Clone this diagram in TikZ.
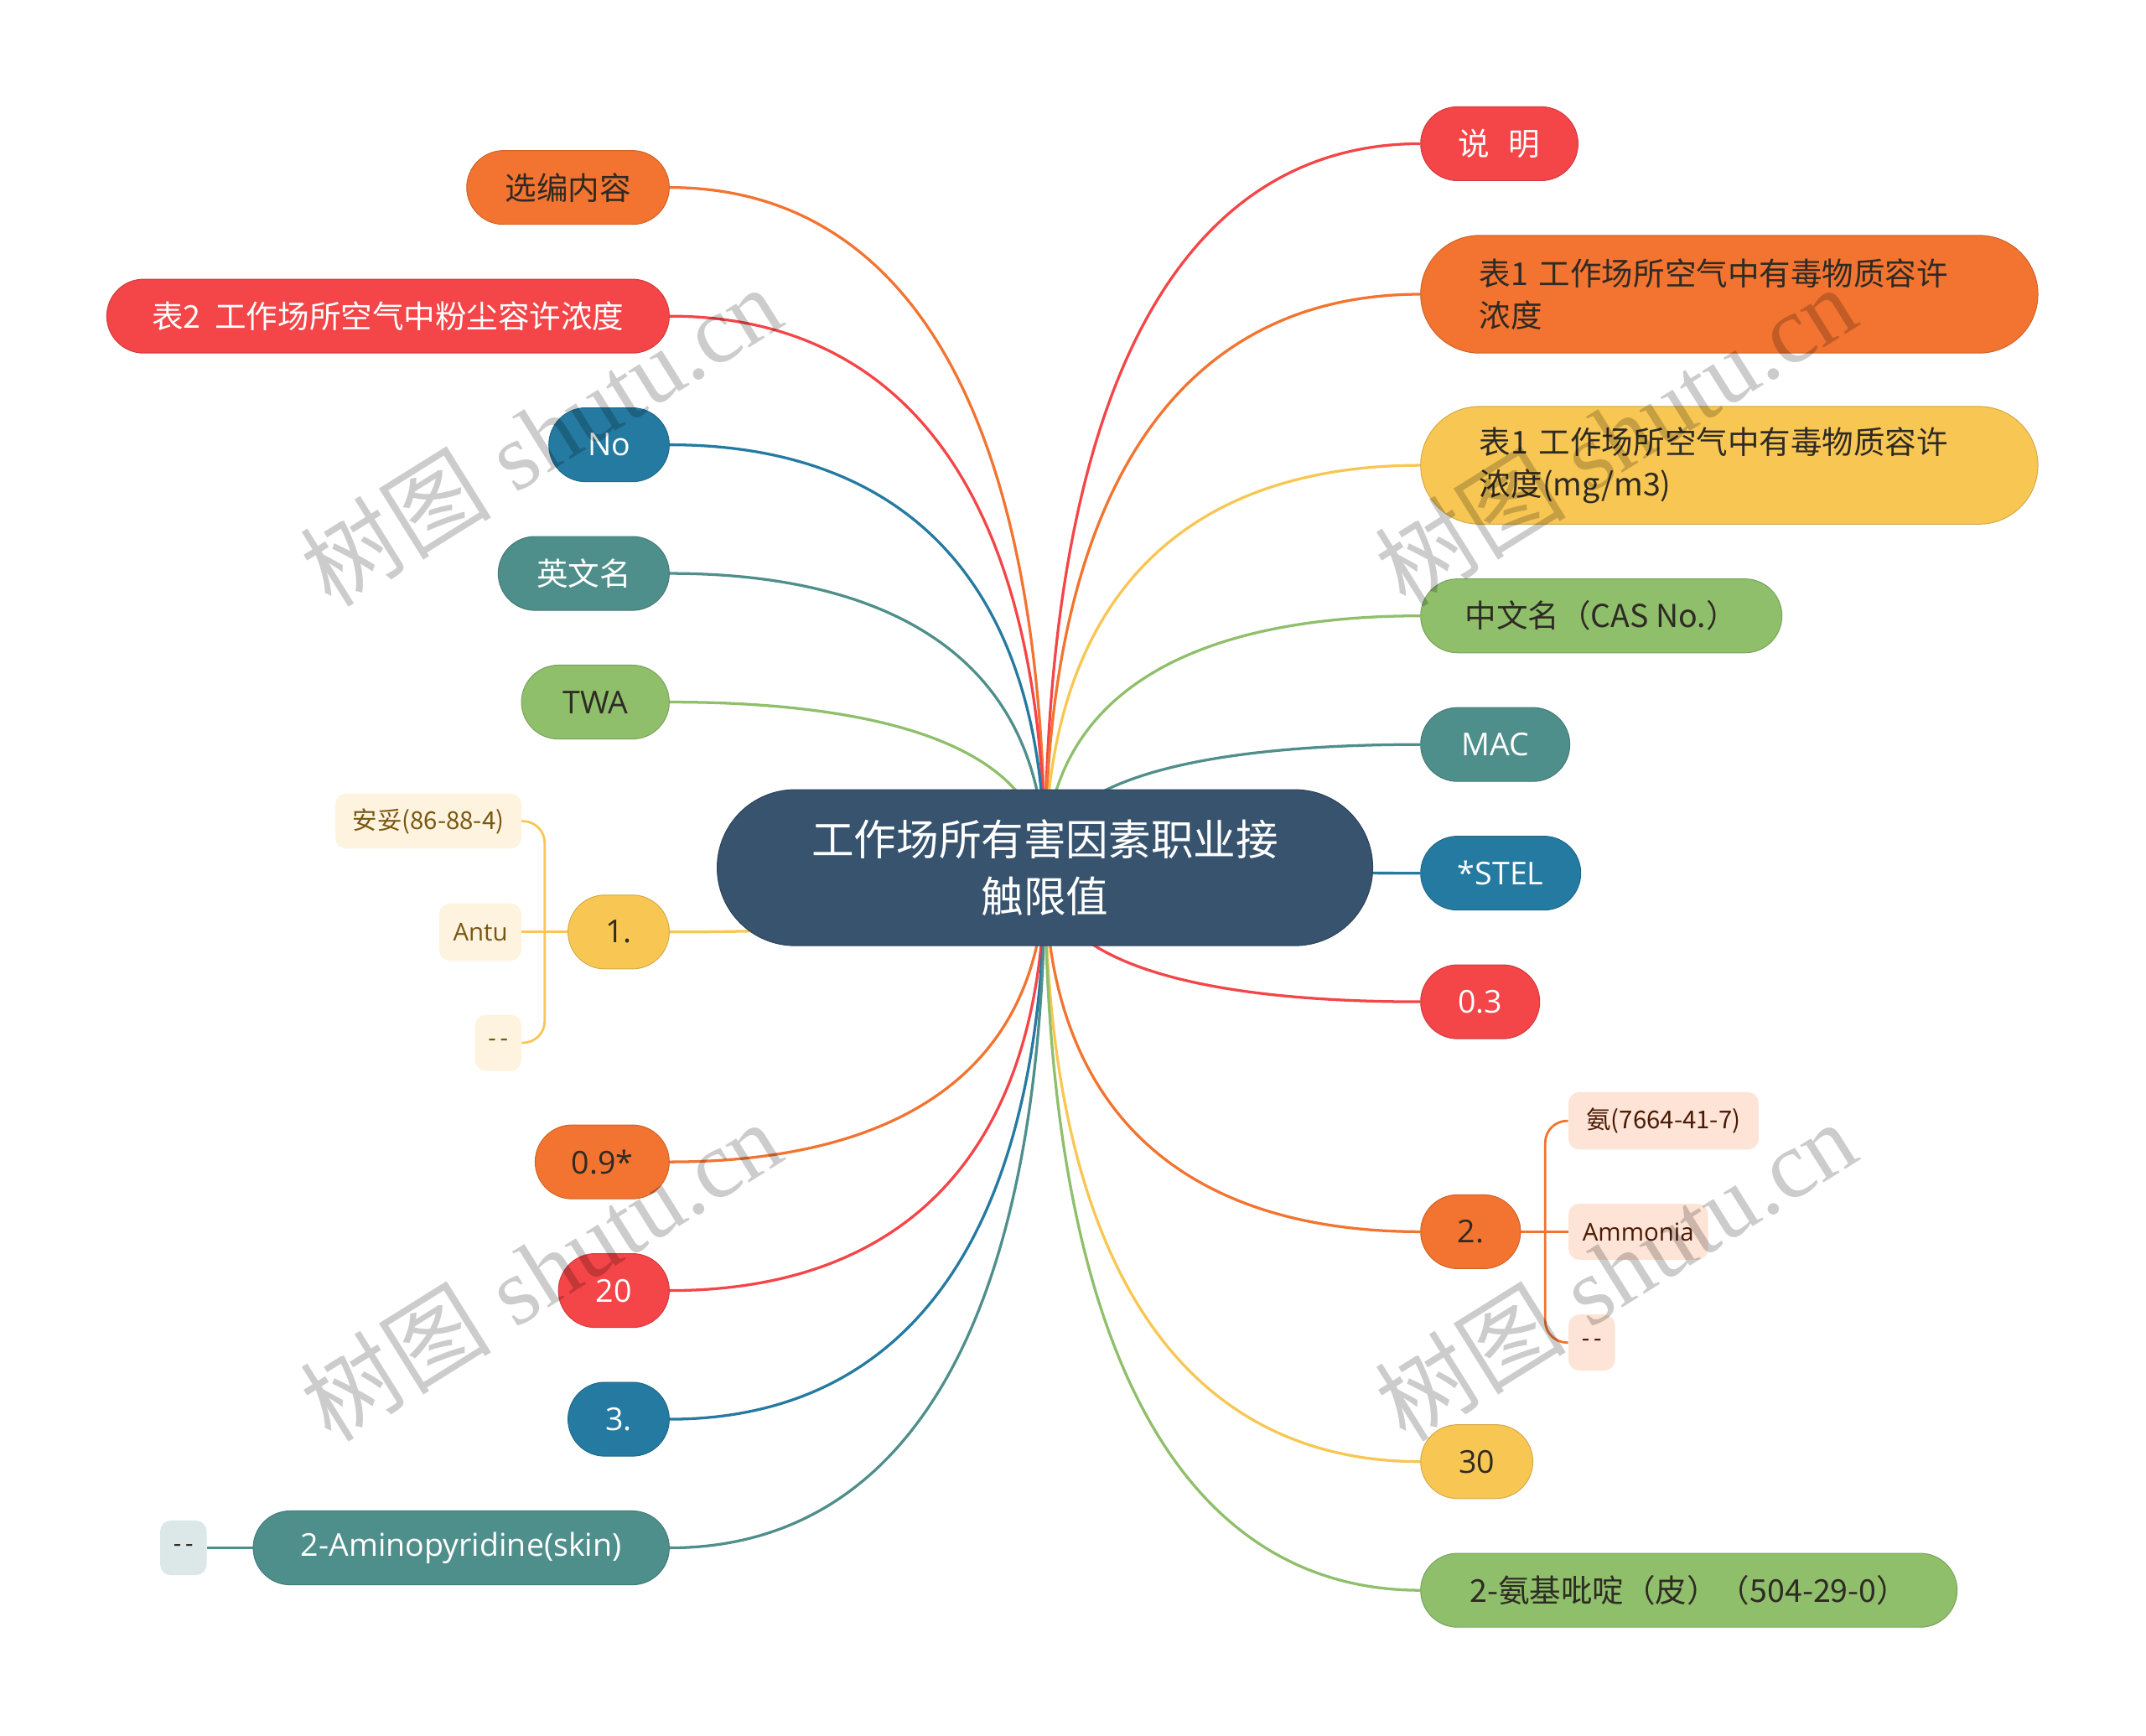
\documentclass[tikz,border=0pt]{standalone}
\usepackage{fontspec}
\setmainfont{Open Sans}
\newfontfamily\cjk{Noto Sans CJK SC}
\newfontfamily\wmserif{Liberation Serif}
\usetikzlibrary{calc,backgrounds}
\definecolor{cOr}{HTML}{F27430}
\definecolor{cRd}{HTML}{F44548}
\definecolor{cBl}{HTML}{257AA1}
\definecolor{cTl}{HTML}{4F8F8B}
\definecolor{cGr}{HTML}{8FBF6B}
\definecolor{cYe}{HTML}{F8C753}
\definecolor{cCen}{HTML}{37536E}
\definecolor{dk}{HTML}{2E2A24}
\definecolor{lYe}{HTML}{FDF3DF}
\definecolor{tYe}{HTML}{7A5610}
\definecolor{lOr}{HTML}{FDE4D6}
\definecolor{tOr}{HTML}{4A1A06}
\definecolor{lTl}{HTML}{DCE8E8}
\begin{document}
\begin{tikzpicture}[x=1pt,y=-1pt,
  mm/.style={rounded corners=27pt, minimum height=54pt, inner sep=0pt, line width=0.6pt,
    font=\fontsize{23}{31}\selectfont},
  mmtwo/.style={rounded corners=43pt, minimum height=86pt, inner sep=0pt, line width=0.6pt,
    font=\fontsize{23}{31}\selectfont, align=left},
  bOr/.style={fill=cOr, draw=cOr!85!black, text=dk},
  bRd/.style={fill=cRd, draw=cRd!85!black, text=white},
  bBl/.style={fill=cBl, draw=cBl!85!black, text=white},
  bTl/.style={fill=cTl, draw=cTl!85!black, text=white},
  bGr/.style={fill=cGr, draw=cGr!85!black, text=dk},
  bYe/.style={fill=cYe, draw=cYe!85!black, text=dk},
  sub/.style={rounded corners=8pt, inner sep=0pt, minimum height=41pt,
    font=\fontsize{18}{22}\selectfont},
  link/.style={line width=2pt},
  sublink/.style={line width=1.7pt, rounded corners=16pt},
  wm/.style={text=black, text opacity=0.2, inner sep=0pt, rotate=32,
    font=\fontsize{70}{70}\selectfont}
]
\useasboundingbox (0,0) rectangle (1568,1268);

% central
\node[fill=cCen, draw=cCen!80!black, line width=0.6pt, rounded corners=57pt,
  minimum width=479pt, minimum height=114pt, inner sep=0pt, text=white, align=center,
  font=\cjk\fontsize{31}{42}\selectfont] (C0) at (763.5,634) {工作场所有害因素职业接\\触限值};

% left main nodes
\node[mm,bOr,minimum width=148pt] (n1) at (415,137) {\cjk 选编内容};
\node[mm,bRd,minimum width=411pt] (n2) at (283.5,231) {\cjk 表2\hspace{0.45em}工作场所空气中粉尘容许浓度};
\node[mm,bBl,minimum width=88pt] (n3) at (445,325) {No};
\node[mm,bTl,minimum width=125pt] (n4) at (426.5,419) {\cjk 英文名};
\node[mm,bGr,minimum width=108pt] (n5) at (435,513) {TWA};
\node[mm,bYe,minimum width=74pt] (n6) at (452,681) {1.};
\node[mm,bOr,minimum width=98pt] (n7) at (440,849) {0.9*};
\node[mm,bRd,minimum width=81pt] (n8) at (448.5,943) {20};
\node[mm,bBl,minimum width=74pt] (n9) at (452,1037) {3.};
\node[mm,bTl,minimum width=304pt] (n10) at (337,1131) {2-Aminopyridine(skin)};

% right main nodes
\node[mm,bRd,minimum width=115pt] (r1) at (1095.5,105) {\cjk 说\hspace{0.6em}明};
\node[mmtwo,bOr,minimum width=451pt,text width=365pt,inner xsep=43pt] (r2) at (1263.5,215)
  {\cjk 表1 工作场所空气中有毒物质容许\\浓度};
\node[mmtwo,bYe,minimum width=451pt,text width=365pt,inner xsep=43pt] (r3) at (1263.5,340)
  {\cjk 表1 工作场所空气中有毒物质容许\\浓度(mg/m3)};
\node[mm,bGr,minimum width=264pt] (r4) at (1170,450) {\cjk 中文名（CAS No.）};
\node[mm,bTl,minimum width=109pt] (r5) at (1092.5,544) {MAC};
\node[mm,bBl,minimum width=117pt] (r6) at (1096.5,638) {*STEL};
\node[mm,bRd,minimum width=87pt] (r7) at (1081.5,732) {0.3};
\node[mm,bOr,minimum width=73pt] (r8) at (1074.5,900) {2.};
\node[mm,bYe,minimum width=82pt] (r9) at (1079,1068) {30};
\node[mm,bGr,minimum width=392pt] (r10) at (1234,1162) {\cjk 2-氨基吡啶（皮）（504-29-0）};

% sub nodes
\node[sub,fill=lYe,text=tYe,minimum width=136pt,minimum height=40pt] (a1) at (313,600) {\cjk 安妥(86-88-4)};
\node[sub,fill=lYe,text=tYe,minimum width=60pt,minimum height=42pt] (a2) at (351,681) {Antu};
\node[sub,fill=lYe,text=tYe,minimum width=34pt] (a3) at (364,762) {-\,-};
\node[sub,fill=lOr,text=tOr,minimum width=139pt,minimum height=42pt] (b1) at (1215.5,819) {\cjk 氨(7664-41-7)};
\node[sub,fill=lOr,text=tOr,minimum width=102pt] (b2) at (1197,900) {Ammonia};
\node[sub,fill=lOr,text=tOr,minimum width=34pt] (b3) at (1163,981) {-\,-};
\node[sub,fill=lTl,text=dk,minimum width=34pt,minimum height=40pt] (c1) at (134,1131) {-\,-};

\coordinate (ax) at (398,681);
\coordinate (bx) at (1129,900);

\begin{pgfonlayer}{background}
  \foreach \nd/\col in {n1/cOr,n2/cRd,n3/cBl,n4/cTl,n5/cGr,n6/cYe,n7/cOr,n8/cRd,n9/cBl,n10/cTl}{
    \draw[link,\col] (\nd.east) .. controls ($(\nd.east)!0.6!(C0.center |- \nd.east)$)
      and ($(C0.center)!0.7!(C0.center |- \nd.east)$) .. (C0.center);
  }
  \foreach \nd/\col in {r1/cRd,r2/cOr,r3/cYe,r4/cGr,r5/cTl,r6/cBl,r7/cRd,r8/cOr,r9/cYe,r10/cGr}{
    \draw[link,\col] (\nd.west) .. controls ($(\nd.west)!0.6!(C0.center |- \nd.west)$)
      and ($(C0.center)!0.7!(C0.center |- \nd.west)$) .. (C0.center);
  }
  \draw[sublink,cYe] (n6.west) -- (a2.east);
  \draw[sublink,cYe] (a1.east) -- (ax |- a1.east) -- (ax);
  \draw[sublink,cYe] (a3.east) -- (ax |- a3.east) -- (ax);
  \draw[sublink,cOr] (r8.east) -- (b2.west);
  \draw[sublink,cOr] (b1.west) -- (bx |- b1.west) -- (bx);
  \draw[sublink,cOr] (b3.west) -- (bx |- b3.west) -- (bx);
  \draw[sublink,cTl] (n10.west) -- (c1.east);
\end{pgfonlayer}

% watermarks
\node[wm] (w1) at (395,318) {{\cjk 树图} {\wmserif shutu.cn}};
\node[wm] (w2) at (1180,318) {{\cjk 树图} {\wmserif shutu.cn}};
\node[wm] (w3) at (395,928) {{\cjk 树图} {\wmserif shutu.cn}};
\node[wm] (w4) at (1180,928) {{\cjk 树图} {\wmserif shutu.cn}};
\end{tikzpicture}
\end{document}
